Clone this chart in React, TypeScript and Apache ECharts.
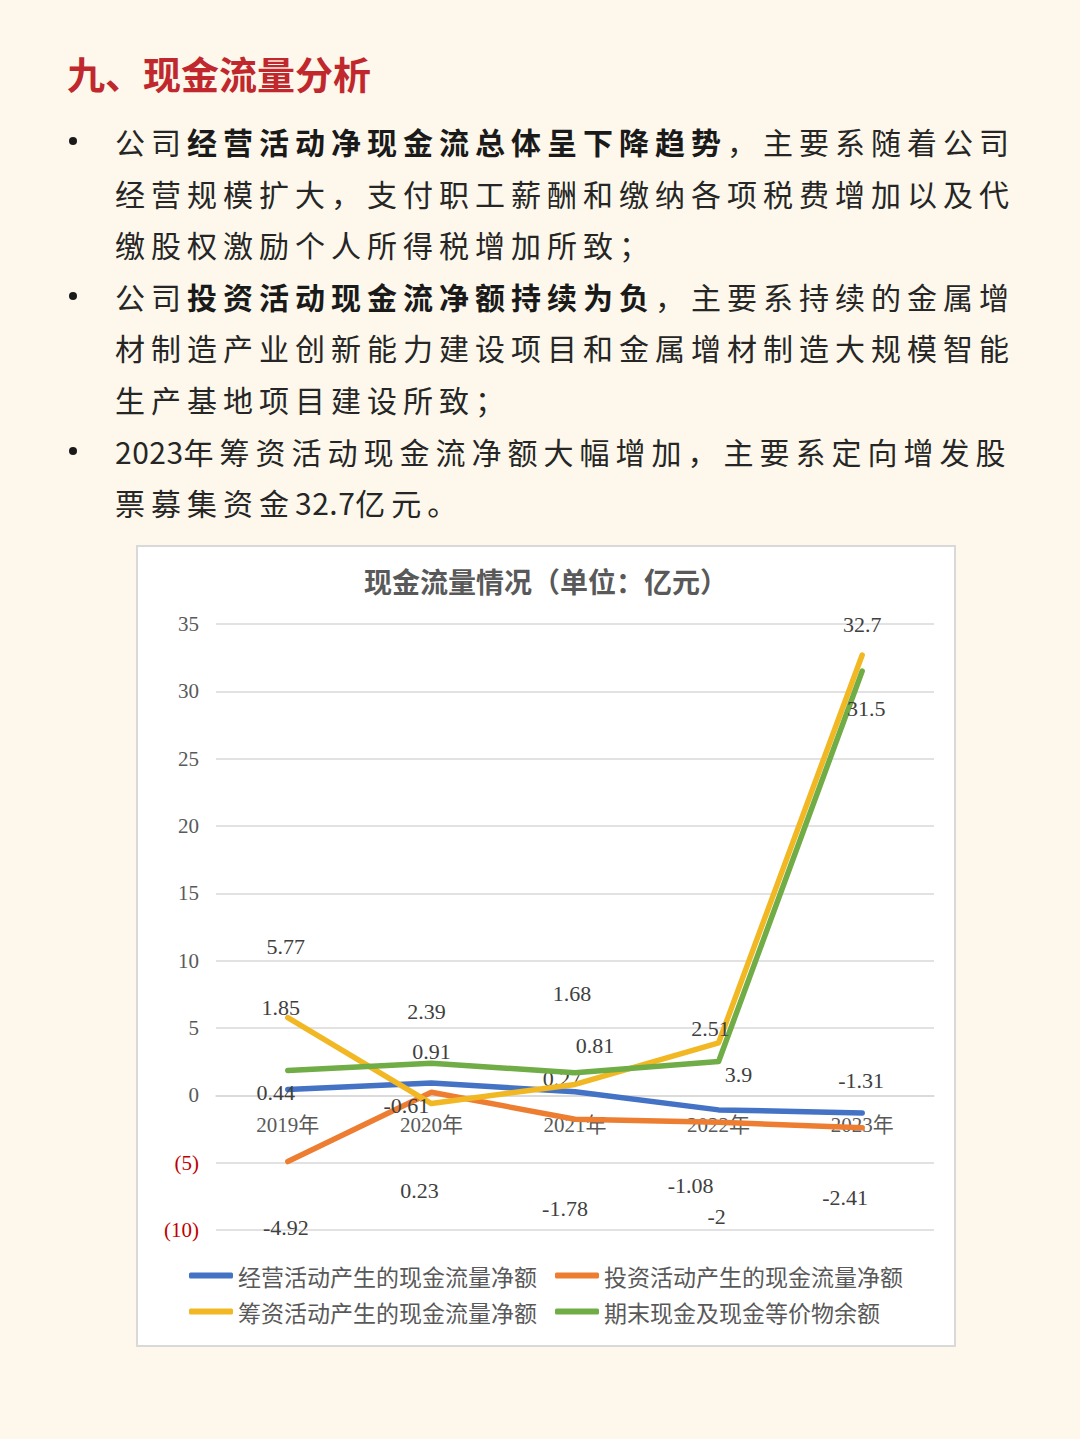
import React, { useEffect, useRef } from "react";
import * as echarts from "echarts";

// ---------- data ----------
const categories = ["2019年", "2020年", "2021年", "2022年", "2023年"];
const operatingCF = [0.44, 0.91, 0.27, -1.08, -1.31];
const investingCF = [-4.92, 0.23, -1.78, -2, -2.41];
const financingCF = [5.77, -0.61, 0.81, 3.9, 32.7];
const endingCash = [1.85, 2.39, 1.68, 2.51, 31.5];
const seriesNames = [
  "经营活动产生的现金流量净额",
  "投资活动产生的现金流量净额",
  "筹资活动产生的现金流量净额",
  "期末现金及现金等价物余额",
];
const yMin = -10;
const yMax = 35;
const yStep = 5;
const chartTitle = "现金流量情况（单位：亿元）";

// ---------- styles (label placement, as in the original Excel chart) ----------
const colors = ["#4472C4", "#ED7D31", "#F2B824", "#70AD47"];
const labelOffsets: number[][][] = [
  [[-12, 3], [0, -32], [-13, -13], [-28, 76], [-1, -32]],
  [[-2, 66], [-12, 98], [-10, 89], [-2, 94], [-17, 70]],
  [[-2, -71], [-25, 2], [20, -39], [20, 32], [0, -30]],
  [[-7, -63], [-5, -52], [-3, -79], [-8, -33], [4, 37]],
];

const serifFont = "'Liberation Serif', 'DejaVu Serif', 'Noto Sans CJK SC', serif";
const cjkFont = "'Noto Sans CJK SC', sans-serif";

const CHART_W = 820;
const CHART_H = 802;
const GRID = { left: 80, right: 22, top: 79, bottom: 117 };

function Chart() {
  const ref = useRef<HTMLDivElement>(null);
  useEffect(() => {
    if (!ref.current) return;
    const chart = echarts.init(ref.current, undefined, { renderer: "svg" });
    const allData = [operatingCF, investingCF, financingCF, endingCash];
    const gridH = CHART_H - GRID.top - GRID.bottom;
    // place the category axis on the zero line, as Excel does
    const zeroOffset = -((0 - yMin) / (yMax - yMin)) * gridH;
    const series = allData.map((arr, si) => ({
      name: seriesNames[si],
      type: "line",
      data: arr.map((v, i) => ({
        value: v,
        label: { offset: labelOffsets[si][i] },
      })),
      symbol: "circle",
      symbolSize: 1,
      showSymbol: true,
      itemStyle: { color: colors[si] },
      lineStyle: { width: 5.5, color: colors[si], cap: "round", join: "round" },
      label: {
        show: true,
        position: "inside",
        fontFamily: serifFont,
        fontSize: 22,
        color: "#404040",
      },
      emphasis: { disabled: true },
      z: 2 + si,
    }));
    const legendBase = {
      left: 48,
      icon: "roundRect",
      itemWidth: 44,
      itemHeight: 6,
      itemGap: 18,
      textStyle: { fontFamily: cjkFont, fontSize: 23, color: "#595959" },
    };
    chart.setOption({
      animation: false,
      title: {
        text: chartTitle,
        left: "center",
        top: 17,
        textStyle: {
          fontFamily: cjkFont,
          fontSize: 28,
          fontWeight: "bold",
          color: "#595959",
        },
      },
      legend: [
        { ...legendBase, data: [seriesNames[0], seriesNames[1]], top: 714 },
        { ...legendBase, data: [seriesNames[2], seriesNames[3]], top: 750 },
      ],
      grid: { ...GRID, containLabel: false },
      xAxis: {
        type: "category",
        data: categories,
        boundaryGap: true,
        offset: zeroOffset,
        axisLine: { show: true, onZero: false, lineStyle: { color: "#D9D9D9", width: 1.5 } },
        axisTick: { show: false },
        axisLabel: {
          fontFamily: serifFont,
          fontSize: 21,
          color: "#595959",
          margin: 19,
        },
      },
      yAxis: {
        type: "value",
        min: yMin,
        max: yMax,
        interval: yStep,
        axisLine: { show: false },
        axisTick: { show: false },
        splitLine: { lineStyle: { color: "#D9D9D9", width: 1.5 } },
        axisLabel: {
          fontFamily: serifFont,
          fontSize: 21,
          margin: 17,
          formatter: (v: number) => (v < 0 ? `(${-v})` : `${v}`),
          color: (v: any) => (Number(v) < 0 ? "#C00000" : "#595959"),
        },
      },
      series,
    });
    return () => chart.dispose();
  }, []);
  return (
    <div
      ref={ref}
      style={{
        position: "absolute",
        left: 136,
        top: 545,
        width: CHART_W,
        height: CHART_H,
        background: "#FFFFFF",
        boxShadow: "inset 0 0 0 2px #D9D9D9",
      }}
    />
  );
}

type Seg = { t: string; b?: boolean; n?: boolean };
const lines: { segs: Seg[]; bullet?: boolean }[] = [
  { bullet: true, segs: [{ t: "公司" }, { t: "经营活动净现金流总体呈下降趋势", b: true }, { t: "，主要系随着公司" }] },
  { segs: [{ t: "经营规模扩大，支付职工薪酬和缴纳各项税费增加以及代" }] },
  { segs: [{ t: "缴股权激励个人所得税增加所致；" }] },
  { bullet: true, segs: [{ t: "公司" }, { t: "投资活动现金流净额持续为负", b: true }, { t: "，主要系持续的金属增" }] },
  { segs: [{ t: "材制造产业创新能力建设项目和金属增材制造大规模智能" }] },
  { segs: [{ t: "生产基地项目建设所致；" }] },
  { bullet: true, segs: [{ t: "2023", n: true }, { t: "年筹资活动现金流净额大幅增加，主要系定向增发股" }] },
  { segs: [{ t: "票募集资金" }, { t: "32.7", n: true }, { t: "亿元。" }] },
];

export default function App() {
  const lineH = 52;
  return (
    <div
      style={{
        position: "absolute",
        left: 0,
        top: 0,
        width: 1080,
        height: 1439,
        background: "#FDF8EB",
        overflow: "hidden",
        fontFamily: cjkFont,
      }}
    >
      <div
        style={{
          position: "absolute",
          left: 67,
          top: 73 - 26,
          height: 52,
          lineHeight: "52px",
          fontSize: 38,
          fontWeight: "bold",
          color: "#C0282E",
          whiteSpace: "nowrap",
        }}
      >
        九、现金流量分析
      </div>
      {lines.map((ln, i) => {
        const cy = 141 + i * 51.6;
        return (
          <React.Fragment key={i}>
            {ln.bullet && (
              <div
                style={{
                  position: "absolute",
                  left: 69,
                  top: cy - 4,
                  width: 8,
                  height: 8,
                  borderRadius: 4,
                  background: "#1a1a1a",
                }}
              />
            )}
            <div
              style={{
                position: "absolute",
                left: 115,
                top: cy - lineH / 2,
                width: 960,
                height: lineH,
                lineHeight: `${lineH}px`,
                fontSize: 30,
                letterSpacing: "6px",
                color: "#262626",
                whiteSpace: "nowrap",
              }}
            >
              {ln.segs.map((s, k) => (
                <span
                  key={k}
                  style={{
                    fontWeight: s.b ? "bold" : "normal",
                    color: s.b ? "#1a1a1a" : undefined,
                    letterSpacing: s.n ? "0.5px" : undefined,
                  }}
                >
                  {s.t}
                </span>
              ))}
            </div>
          </React.Fragment>
        );
      })}
      <Chart />
    </div>
  );
}
